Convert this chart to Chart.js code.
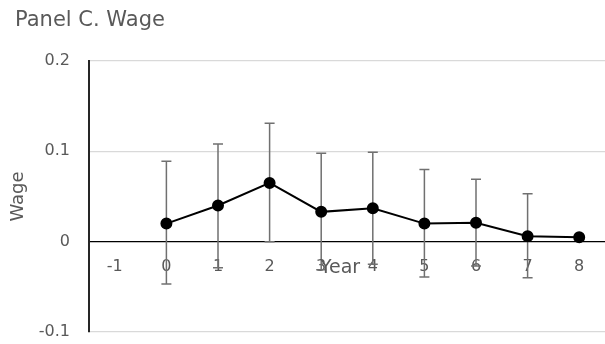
<!DOCTYPE html>
<html lang="en">
<head>
    <meta charset="UTF-8">
    <title>Panel C. Wage</title>
    <style>
        body {
            margin: 0;
            background-color: #ffffff;
        }
        #wrap {
            width: 605px;
            height: 344px;
        }
    </style>
</head>
<body>

    <div id="wrap">
        <canvas id="wageChart" width="605" height="344"></canvas>
    </div>

    <script src="https://cdn.jsdelivr.net/npm/chart.js"></script>

    <script>
        // Years relative to the event
        const years = ['-1', '0', '1', '2', '3', '4', '5', '6', '7', '8'];
        // Point estimates
        const wage = [null, 0.020, 0.040, 0.065, 0.033, 0.037, 0.020, 0.021, 0.006, 0.005];
        // Confidence interval bounds
        const ciHigh = [null, 0.089, 0.108, 0.131, 0.098, 0.099, 0.080, 0.069, 0.053, null];
        const ciLow = [null, -0.047, -0.029, 0.000, -0.031, -0.025, -0.039, -0.027, -0.040, null];
        // Y axis ticks
        const yTicks = [-0.1, 0, 0.1, 0.2];

        const textColor = '#595959';
        const fontFamily = '"DejaVu Sans", sans-serif';

        // Vertical error bars with caps, drawn under the line and points
        const errorBars = {
            id: 'errorBars',
            beforeDatasetsDraw(chart) {
                const { ctx, scales: { x, y } } = chart;
                ctx.save();
                ctx.strokeStyle = '#707070';
                ctx.lineWidth = 1.5;
                for (let i = 0; i < years.length; i++) {
                    if (ciHigh[i] === null || ciLow[i] === null) continue;
                    const px = x.getPixelForValue(i);
                    const top = y.getPixelForValue(ciHigh[i]);
                    const bottom = y.getPixelForValue(ciLow[i]);
                    ctx.beginPath();
                    ctx.moveTo(px, top);
                    ctx.lineTo(px, bottom);
                    ctx.moveTo(px - 5, top);
                    ctx.lineTo(px + 5, top);
                    ctx.moveTo(px - 5, bottom);
                    ctx.lineTo(px + 5, bottom);
                    ctx.stroke();
                }
                ctx.restore();
            }
        };

        // Panel title, and the "Year" title sitting on the zero line
        const panelText = {
            id: 'panelText',
            afterDraw(chart) {
                const { ctx, chartArea, scales: { y } } = chart;
                ctx.save();
                ctx.fillStyle = textColor;
                ctx.font = '21px ' + fontFamily;
                ctx.textAlign = 'left';
                ctx.textBaseline = 'middle';
                ctx.fillText('Panel C. Wage', 15, 21);
                ctx.font = '19px ' + fontFamily;
                ctx.textAlign = 'center';
                ctx.fillText('Year', (chartArea.left + chartArea.right) / 2 - 7, y.getPixelForValue(0) + 26);
                ctx.restore();
            }
        };

        const ctx = document.getElementById('wageChart').getContext('2d');
        const wageChart = new Chart(ctx, {
            type: 'line',
            data: {
                labels: years,
                datasets: [{
                    label: 'Wage',
                    data: wage,
                    borderColor: '#000000',
                    backgroundColor: '#000000',
                    borderWidth: 2,
                    pointRadius: 5,
                    pointHoverRadius: 5,
                    tension: 0
                }]
            },
            options: {
                responsive: false,
                animation: false,
                layout: {
                    autoPadding: false,
                    padding: { left: 0, right: 0, top: 61, bottom: 12 }
                },
                plugins: {
                    legend: { display: false },
                    tooltip: { enabled: false },
                    title: { display: false }
                },
                scales: {
                    x: {
                        type: 'category',
                        position: { y: 0 },
                        offset: true,
                        grid: { display: false, drawTicks: false },
                        border: { color: '#000000', width: 1.3 },
                        ticks: {
                            color: textColor,
                            font: { family: fontFamily, size: 16 },
                            padding: 16,
                            maxRotation: 0
                        },
                        afterFit(scale) {
                            scale.paddingLeft = 0;
                            scale.paddingRight = 0;
                            scale.paddingTop = 0;
                            scale.paddingBottom = 0;
                        }
                    },
                    y: {
                        min: -0.1,
                        max: 0.2,
                        afterBuildTicks(scale) {
                            scale.ticks = yTicks.map(v => ({ value: v }));
                        },
                        afterFit(scale) {
                            scale.width = 89;
                            scale.paddingTop = 10;
                            scale.paddingBottom = 10;
                        },
                        grid: {
                            color: ctx => ctx.tick && ctx.tick.value === 0 ? 'rgba(0,0,0,0)' : '#d9d9d9',
                            lineWidth: 1.3,
                            drawTicks: false
                        },
                        border: { color: '#262626', width: 2 },
                        ticks: {
                            color: textColor,
                            font: { family: fontFamily, size: 16 },
                            padding: 19,
                            callback: v => String(Math.round(v * 10) / 10)
                        },
                        title: {
                            display: true,
                            text: 'Wage',
                            color: textColor,
                            font: { family: fontFamily, size: 18 },
                            padding: { top: 8, bottom: 0 }
                        }
                    }
                }
            },
            plugins: [errorBars, panelText]
        });
    </script>

</body>
</html>
